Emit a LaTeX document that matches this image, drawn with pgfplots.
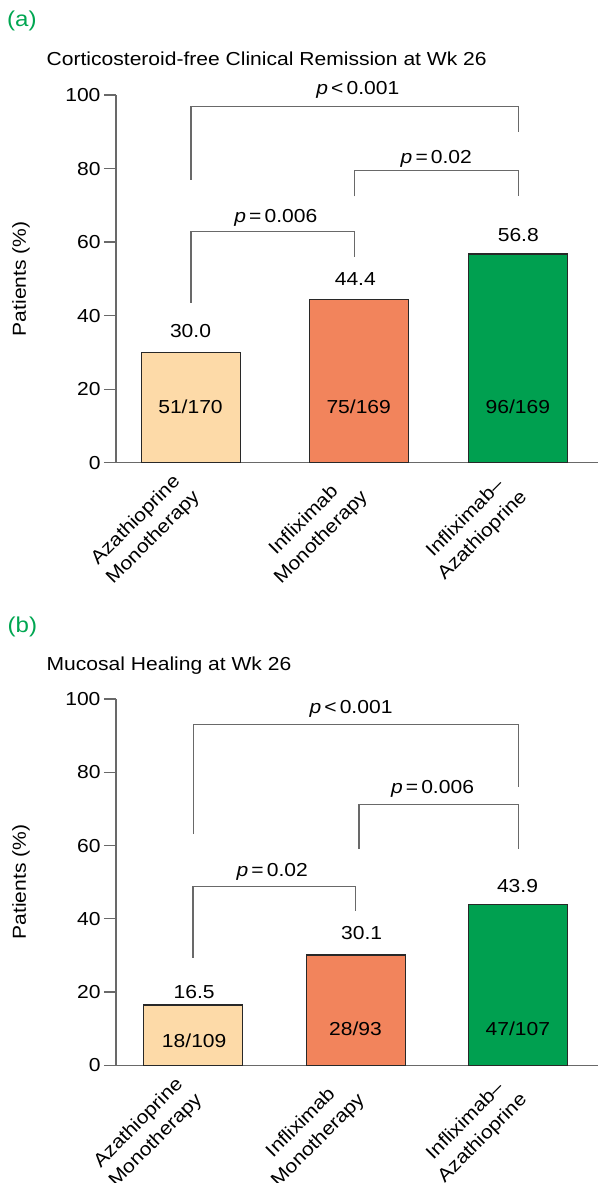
\documentclass[border=0pt]{standalone}
\usepackage{fontspec}
\setmainfont{Liberation Sans}[FakeStretch=1.12]
\usepackage{pgfplots}
\pgfplotsset{compat=1.18}
\definecolor{peach}{RGB}{253,218,168}
\definecolor{orng}{RGB}{242,132,92}
\definecolor{grn}{RGB}{0,160,80}
\definecolor{lblgrn}{RGB}{0,166,81}
\definecolor{axgray}{RGB}{105,105,105}
\definecolor{edge}{RGB}{40,40,40}
\pgfplotsset{
  panel/.style={
    scale only axis, width=482pt, xmin=116, xmax=598, ymin=0, ymax=100,
    axis x line*=bottom, axis y line*=left,
    axis line style={axgray, line width=1.4pt},
    ytick={0,20,...,100},
    tick align=outside, major tick length=12pt,
    ytick style={axgray, line width=1.2pt},
    xtick style={draw=none},
    xticklabel style={yshift=-11pt, xshift=-2.3pt, rotate=45, anchor=east, inner sep=0pt, align=center,
      font=\fontsize{18.8}{24.5}\selectfont},
    /pgf/number format/assume math mode=true,
    ylabel={Patients (\%)},
    ylabel style={at={(axis description cs:-0.197,0.5)}, anchor=center},
    clip=false,
  },
  bbar/.style={ybar, bar shift=0pt, bar width=99, draw=edge, line width=1.3pt},
  brk/.style={axgray, line width=1.2pt, mark=none},
}
\begin{document}
\begin{tikzpicture}[font=\fontsize{18.8}{22}\selectfont]
\useasboundingbox (0,0) rectangle (598pt,-1183pt);
\node[lblgrn, anchor=base west, inner sep=0, font=\fontsize{21.5}{24}\selectfont] at (7pt,-26.5pt) {(a)};
\node[anchor=base west, inner sep=0] at (46.5pt,-65.7pt) {Corticosteroid-free Clinical Remission at Wk 26};
\begin{axis}[panel, height=367.7pt, at={(116pt,-462.7pt)}, anchor=south west,
  xtick={190.7,358.7,518},
  xticklabels={{Azathioprine\\Monotherapy},{Infliximab\\Monotherapy},{Infliximab--\\Azathioprine}}]
\addplot[bbar, fill=peach] coordinates {(190.7,30.0)};
\addplot[bbar, fill=orng] coordinates {(358.7,44.4)};
\addplot[bbar, fill=grn] coordinates {(518,56.8)};
\addplot[brk] coordinates {(191,76.9) (191,96.9) (518.3,96.9) (518.3,90.0)};
\addplot[brk] coordinates {(354.3,72.4) (354.3,79.4) (518.3,79.4) (518.3,72.4)};
\addplot[brk] coordinates {(191,43.5) (191,62.8) (354.3,62.8) (354.3,56.0)};
\node at (axis cs:357.8,101.4) {\textit{p}\thinspace<\thinspace0.001};
\node at (axis cs:436.3,82.5) {\textit{p}\thinspace=\thinspace0.02};
\node at (axis cs:275.8,66.6) {\textit{p}\thinspace=\thinspace0.006};
\node at (axis cs:190.5,35.7) {30.0};
\node at (axis cs:355.3,50.0) {44.4};
\node at (axis cs:518.3,61.8) {56.8};
\node at (axis cs:190.5,15.2) {51/170};
\node at (axis cs:358.7,15.2) {75/169};
\node at (axis cs:517.8,15.2) {96/169};
\end{axis}
\node[lblgrn, anchor=base west, inner sep=0, font=\fontsize{21.5}{24}\selectfont] at (7.5pt,-632pt) {(b)};
\node[anchor=base west, inner sep=0] at (46.5pt,-670.7pt) {Mucosal Healing at Wk 26};
\begin{axis}[panel, height=366.3pt, at={(116pt,-1065.3pt)}, anchor=south west,
  xtick={193.3,355.7,518},
  xticklabels={{Azathioprine\\Monotherapy},{Infliximab\\Monotherapy},{Infliximab--\\Azathioprine}}]
\addplot[bbar, fill=peach] coordinates {(193.3,16.5)};
\addplot[bbar, fill=orng] coordinates {(355.7,30.1)};
\addplot[bbar, fill=grn] coordinates {(518,43.9)};
\addplot[brk] coordinates {(193.3,63.1) (193.3,93.1) (518.3,93.1) (518.3,76.1)};
\addplot[brk] coordinates {(359,59.0) (359,71.3) (518.3,71.3) (518.3,59.0)};
\addplot[brk] coordinates {(193,29.4) (193,48.8) (355.7,48.8) (355.7,42.1)};
\node at (axis cs:351,97.2) {\textit{p}\thinspace<\thinspace0.001};
\node at (axis cs:432.5,75.6) {\textit{p}\thinspace=\thinspace0.006};
\node at (axis cs:272.2,52.7) {\textit{p}\thinspace=\thinspace0.02};
\node at (axis cs:194.2,20.1) {16.5};
\node at (axis cs:361.7,36.2) {30.1};
\node at (axis cs:517.5,48.9) {43.9};
\node at (axis cs:194.2,6.7) {18/109};
\node at (axis cs:355.5,10.1) {28/93};
\node at (axis cs:517.8,10.1) {47/107};
\end{axis}
\end{tikzpicture}
\end{document}
